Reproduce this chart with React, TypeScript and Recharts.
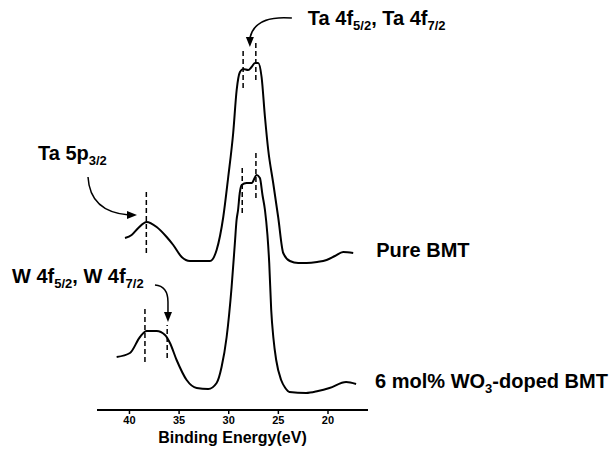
import { LineChart, Line, XAxis, YAxis, ReferenceLine, ReferenceDot } from "recharts";

const FONT = "'Liberation Sans', Arial, sans-serif";
const INK = "#000";

// binding energy (eV) and intensity (a.u.)
const pureEnergy = [
  40.45, 39.78, 39.11, 38.27, 37.26, 36.25, 35.59, 34.74, 33.91, 32.9, 31.89, 31.22, 30.55, 30.05,
  29.55, 29.2, 28.87, 28.54, 28.04, 27.7, 27.36, 27.03, 26.69, 26.35, 26.02, 25.52, 25.02, 24.51,
  23.84, 23.0, 22.16, 21.1, 20.14, 19.3, 18.47, 17.46,
];
const pureCounts = [
  172, 175, 182, 188, 183, 173, 165, 153, 149, 149, 149, 160, 193, 233, 277, 320, 338, 341, 340, 343,
  347, 347, 333, 293, 260, 227, 193, 157, 149, 147, 147, 148, 150, 154, 158, 157,
];

const dopedEnergy = [
  41.29, 39.95, 38.94, 38.27, 37.26, 36.42, 35.92, 35.25, 34.24, 33.23, 32.06, 31.22, 30.72, 30.21,
  29.71, 29.38, 29.21, 29.06, 28.89, 28.7, 28.2, 27.69, 27.19, 26.86, 26.6, 26.35, 26.1, 25.92,
  25.72, 25.5, 25.22, 24.72, 24.3, 23.88, 22.2, 21.0, 19.85, 18.17, 17.17,
];
const dopedCounts = [
  53, 57, 73, 79, 79, 75, 67, 50, 30, 22, 21, 27, 43, 73, 123, 167, 190, 200, 217, 225, 227, 227, 235,
  232, 215, 200, 175, 147, 100, 72, 50, 30, 22, 18, 17, 19, 22, 28, 26,
];

const energyTicks = [40, 35, 30, 25, 20];

// dashed peak markers: energy, lower and upper intensity
const pureMarkers = [
  [38.3, 157, 220],
  [28.55, 322, 360],
  [27.27, 330, 367],
];
const dopedMarkers = [
  [38.44, 48, 104],
  [36.2, 52, 85],
  [28.64, 197, 243],
  [27.26, 212, 257],
];

const pureData = pureEnergy.map((e, i) => ({ e, v: pureCounts[i] }));
const dopedData = dopedEnergy.map((e, i) => ({ e, v: dopedCounts[i] }));

type Part = [string, boolean?];

function Label({ x, y, parts }: { x: number; y: number; parts: Part[] }) {
  let prevSub = false;
  return (
    <text x={x} y={y} fontFamily={FONT} fontSize={20} fontWeight="bold" fill={INK}>
      {parts.map(([t, sub], i) => {
        const dy = sub && !prevSub ? 5 : !sub && prevSub ? -5 : 0;
        prevSub = !!sub;
        return (
          <tspan key={i} dy={dy} fontSize={sub ? 13 : 20}>
            {t}
          </tspan>
        );
      })}
    </text>
  );
}

const arrowLine = { fill: "none", stroke: INK, strokeWidth: 1.5 };

const taFourF = ({ cx, cy }: any) => (
  <g>
    <path d={`M${cx + 42} ${cy - 29} Q${cx + 5} ${cy - 32} ${cx} ${cy - 9}`} {...arrowLine} />
    <polygon points={`${cx - 4},${cy - 10} ${cx + 4},${cy - 10} ${cx},${cy}`} fill={INK} />
    <Label
      x={cx + 58}
      y={cy - 22}
      parts={[["Ta 4f"], ["5/2", true], [", Ta 4f"], ["7/2", true]]}
    />
  </g>
);

const taFiveP = ({ cx, cy }: any) => (
  <g>
    <path d={`M${cx - 49} ${cy - 39} Q${cx - 47} ${cy - 4} ${cx - 8} ${cy - 1}`} {...arrowLine} />
    <polygon points={`${cx - 10},${cy - 5} ${cx - 10},${cy + 3} ${cx},${cy - 1}`} fill={INK} />
    <Label x={cx - 99} y={cy - 56} parts={[["Ta 5p"], ["3/2", true]]} />
  </g>
);

const wFourF = ({ cx, cy }: any) => (
  <g>
    <path d={`M${cx - 13} ${cy - 37} Q${cx} ${cy - 36} ${cx} ${cy - 20} L${cx} ${cy - 9}`} {...arrowLine} />
    <polygon points={`${cx - 4},${cy - 10} ${cx + 4},${cy - 10} ${cx},${cy}`} fill={INK} />
    <Label
      x={cx - 156}
      y={cy - 39}
      parts={[["W 4f"], ["5/2", true], [", W 4f"], ["7/2", true]]}
    />
  </g>
);

const seriesName = (parts: Part[], dx: number) => ({ cx, cy }: any) =>
  <Label x={cx + dx} y={cy + 4} parts={parts} />;

export default function App() {
  const pureLast = pureData[pureData.length - 1];
  const dopedLast = dopedData[dopedData.length - 1];
  return (
    <div style={{ position: "absolute", left: 0, top: 0, width: 611, height: 453, background: "#fff" }}>
      <LineChart
        width={611}
        height={453}
        margin={{ top: 10, right: 243, bottom: 0, left: 97 }}
      >
        <XAxis
          dataKey="e"
          type="number"
          domain={[15.97, 43.27]}
          reversed
          allowDataOverflow
          ticks={energyTicks}
          tickSize={4}
          axisLine={{ stroke: INK, strokeWidth: 2 }}
          tickLine={{ stroke: INK, strokeWidth: 1.5 }}
          tick={{ fill: INK, fontSize: 11, fontWeight: "bold", fontFamily: FONT }}
          height={43}
          label={{
            value: "Binding Energy(eV)",
            position: "insideBottom",
            offset: 10,
            fill: INK,
            fontSize: 16,
            fontWeight: "bold",
            fontFamily: FONT,
          }}
        />
        <YAxis type="number" domain={[0, 400]} hide />
        <Line
          data={pureData}
          dataKey="v"
          type="monotone"
          stroke={INK}
          strokeWidth={2}
          dot={false}
          activeDot={false}
          isAnimationActive={false}
        />
        <Line
          data={dopedData}
          dataKey="v"
          type="monotone"
          stroke={INK}
          strokeWidth={2}
          dot={false}
          activeDot={false}
          isAnimationActive={false}
        />
        {[...pureMarkers, ...dopedMarkers].map(([e, lo, hi], i) => (
          <ReferenceLine
            key={i}
            segment={[
              { x: e, y: lo },
              { x: e, y: hi },
            ]}
            stroke={INK}
            strokeWidth={1.5}
            strokeDasharray="5 3"
          />
        ))}
        <ReferenceDot x={27.87} y={363} r={0} shape={taFourF} />
        <ReferenceDot x={39.24} y={194} r={0} shape={taFiveP} />
        <ReferenceDot x={36.12} y={88} r={0} shape={wFourF} />
        <ReferenceDot x={pureLast.e} y={pureLast.v} r={0} shape={seriesName([["Pure BMT"]], 23)} />
        <ReferenceDot
          x={dopedLast.e}
          y={dopedLast.v}
          r={0}
          shape={seriesName([["6 mol% WO"], ["3", true], ["-doped BMT"]], 19)}
        />
      </LineChart>
    </div>
  );
}
